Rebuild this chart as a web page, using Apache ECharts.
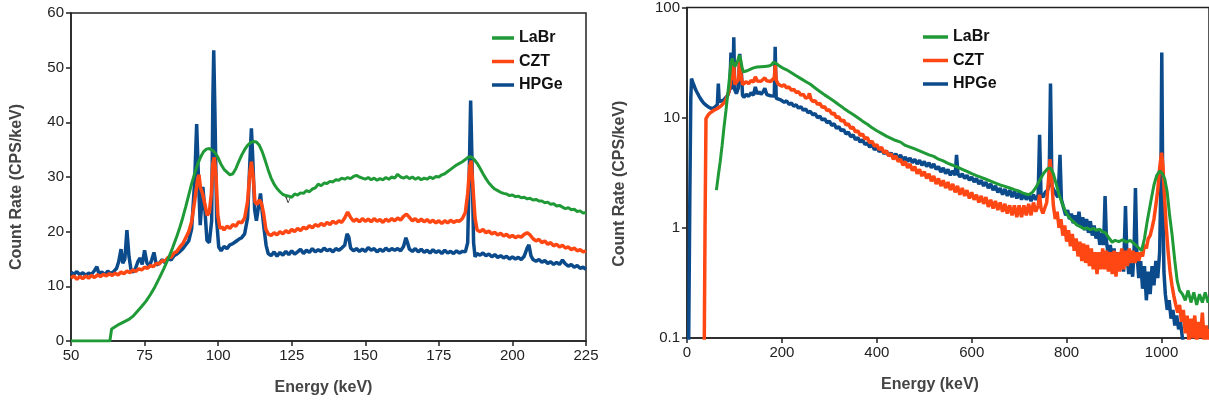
<!DOCTYPE html>
<html>
<head>
<meta charset="utf-8">
<script src="https://cdn.jsdelivr.net/npm/echarts@6/dist/echarts.min.js"></script>
<style>
  html, body { margin: 0; padding: 0; background: #fff; }
  #main { width: 1209px; height: 407px; }
</style>
</head>
<body>
<div id="main"></div>
<script>
var myChart = echarts.init(document.getElementById("main"));

// series names + colours
var detectors = ["LaBr", "CZT", "HPGe"];
var colors = ["#1f9a37", "#ff4714", "#0b4a8b"];

// left panel: linear, 50-225 keV  ([energy, count rate])
var labrLin = [
    [50, 0], [63.2, 0], [63.8, 2.2], [65, 2.6], [66.5, 3.1], [68, 3.5], [69.5, 3.9], [71, 4.5], [72.5, 5.4],
    [74, 6.3], [75.5, 7.3], [77, 8.5], [78.5, 9.9], [80, 11.5], [81.5, 13.2], [83, 15.0], [84.5, 17.0],
    [86, 19.2], [87, 20.8], [88, 22.6], [89, 24.6], [90, 26.7], [91, 28.8], [92, 30.6], [93, 32.3],
    [94, 33.6], [95, 34.6], [96, 35.1], [97, 35.2], [98, 34.9], [99, 34.4], [100, 33.5], [101, 32.3],
    [102, 31.4], [103, 30.9], [104, 30.4], [105, 30.6], [106, 31.5], [107, 32.8], [108, 34.0], [109, 35.0],
    [110, 35.8], [111, 36.3], [112, 36.5], [113, 36.4], [114, 35.8], [115, 34.6], [116, 33.0], [117, 31.3],
    [118, 29.8], [119, 28.7], [120, 27.9], [121, 27.3], [122, 26.8], [123, 26.6], [124, 26.5], [125, 26.3],
    [126, 26.9], [127, 26.7], [128, 27.1], [129, 27.0], [130, 27.5], [131, 27.3], [132, 27.8], [133, 28.0],
    [134, 28.7], [135, 28.4], [136, 28.9], [137, 28.8], [138, 29.2], [139, 29.1], [140, 29.5], [141, 29.4],
    [142, 29.8], [143, 29.6], [144, 29.9], [145, 29.7], [146, 30.1], [147, 30.3], [148, 30.0], [149, 29.8],
    [150, 29.6], [151, 29.9], [152, 29.5], [153, 29.8], [154, 29.4], [155, 29.7], [156, 29.5], [157, 29.9],
    [158, 29.6], [159, 30.0], [160, 29.8], [161, 30.5], [162, 30.0], [163, 29.8], [164, 30.1], [165, 29.7],
    [166, 30.0], [167, 29.6], [168, 29.9], [169, 29.5], [170, 29.8], [171, 29.6], [172, 30.0], [173, 29.7],
    [174, 30.1], [175, 30.0], [176, 30.4], [177, 30.6], [178, 31.0], [179, 31.4], [180, 31.8], [181, 32.2],
    [182, 32.5], [183, 32.8], [184, 33.2], [185, 33.6], [186, 33.7], [187, 33.2], [188, 32.5], [189, 31.6],
    [190, 30.6], [191, 29.7], [192, 28.9], [193, 28.3], [194, 27.8], [195, 27.5], [196, 27.2], [197, 27.0],
    [198, 26.9], [199, 26.6], [200, 26.7], [201, 26.4], [202, 26.5], [203, 26.2], [204, 26.3], [205, 26.0],
    [206, 26.1], [207, 25.8], [208, 25.9], [209, 25.6], [210, 25.6], [211, 25.3], [212, 25.4], [213, 25.0],
    [214, 25.1], [215, 24.7], [216, 24.8], [217, 24.5], [218, 24.2], [219, 24.4], [220, 24.0], [221, 24.1],
    [222, 23.7], [223, 23.8], [224, 23.4], [225, 23.5]
];
var cztLin = [
    [50, 11.5], [51, 11.9], [52, 11.3], [53, 11.8], [54, 11.4], [55, 11.9], [56, 11.5], [57, 12.0], [58, 11.6],
    [59, 12.1], [60, 11.8], [61, 12.2], [62, 11.9], [63, 12.3], [64, 12.0], [65, 12.4], [66, 12.1], [67, 12.6],
    [68, 12.3], [69, 12.8], [70, 12.5], [71, 13.0], [72, 12.7], [73, 13.2], [74, 13.0], [75, 13.5], [76, 13.3],
    [77, 13.8], [78, 13.6], [79, 14.2], [80, 14.1], [81, 14.7], [82, 14.6], [83, 15.3], [84, 15.3], [85, 16.1],
    [86, 16.4], [87, 17.2], [88, 17.8], [89, 18.9], [90, 20.0], [91, 21.8], [92, 25.5], [93, 29.5], [93.5, 30.4],
    [94, 28], [94.7, 27], [95.5, 25], [96.3, 23.0], [97, 23.5], [97.7, 27], [98.2, 32.5], [98.7, 33.6],
    [99.3, 30], [99.9, 23], [100.6, 20.6], [101.3, 20.9], [102, 20.3], [103, 21.0], [104, 20.6], [105, 21.3],
    [106, 21.0], [107, 21.8], [108, 21.6], [109, 22.5], [110, 25.5], [110.8, 31], [111.3, 32.8], [111.9, 30],
    [112.5, 25.5], [113.2, 25], [114, 25.8], [114.7, 25.2], [115.4, 23.5], [116.2, 20.5], [117, 19.6],
    [118, 19.3], [119, 19.8], [120, 19.4], [121, 20.0], [122, 19.6], [123, 20.2], [124, 19.8], [125, 20.4],
    [126, 20.0], [127, 20.6], [128, 20.2], [129, 20.8], [130, 20.5], [131, 21.1], [132, 20.7], [133, 21.3],
    [134, 21.0], [135, 21.5], [136, 21.1], [137, 21.7], [138, 21.3], [139, 21.9], [140, 21.5], [141, 22.0],
    [142, 21.7], [143, 22.5], [144, 23.6], [145, 22.6], [146, 21.9], [147, 22.3], [148, 21.8], [149, 22.4],
    [150, 21.9], [151, 22.3], [152, 21.8], [153, 22.4], [154, 21.9], [155, 22.2], [156, 21.7], [157, 22.3],
    [158, 21.9], [159, 22.4], [160, 22.0], [161, 22.5], [162, 22.1], [163, 22.8], [164, 23.2], [165, 22.6],
    [166, 22.0], [167, 22.4], [168, 21.8], [169, 22.3], [170, 21.8], [171, 22.2], [172, 21.7], [173, 22.1],
    [174, 21.6], [175, 22.0], [176, 21.5], [177, 22.0], [178, 21.6], [179, 22.1], [180, 21.7], [181, 22.0],
    [182, 21.9], [183, 22.4], [184, 23.5], [184.8, 27], [185.5, 32], [186, 33], [186.6, 28], [187.3, 22.5],
    [188, 20.3], [189, 20.0], [190, 20.4], [191, 19.8], [192, 20.1], [193, 19.6], [194, 19.9], [195, 19.4],
    [196, 19.7], [197, 19.2], [198, 19.5], [199, 19.0], [200, 19.3], [201, 18.9], [202, 19.2], [203, 19.0],
    [204, 19.5], [205, 19.8], [206, 19.4], [207, 18.7], [208, 18.3], [209, 18.6], [210, 18.0], [211, 18.3],
    [212, 17.7], [213, 18.0], [214, 17.4], [215, 17.7], [216, 17.2], [217, 17.5], [218, 17.0], [219, 17.2],
    [220, 16.7], [221, 17.0], [222, 16.5], [223, 16.7], [224, 16.3], [225, 16.5]
];
var hpgeLin = [
    [50, 12.6], [51, 12.2], [52, 12.7], [53, 12.1], [54, 12.5], [55, 12.0], [56, 12.4], [57, 12.2], [58, 12.9],
    [58.8, 13.6], [59.5, 12.3], [60.5, 12.6], [61.5, 12.1], [62.5, 12.8], [63.5, 12.3], [64.5, 12.7],
    [65.5, 13.3], [66.2, 14.5], [67, 16.8], [67.6, 14.2], [68.3, 15.0], [69, 20.3], [69.7, 15.5], [70.4, 13.0],
    [71.2, 12.6], [72, 13.4], [72.8, 14.6], [73.5, 15.2], [74.2, 14.0], [75, 16.6], [75.8, 14.3], [76.6, 13.6],
    [77.4, 14.8], [78.2, 16.2], [79, 13.9], [80, 14.2], [81, 14.9], [82, 14.3], [83, 15.2], [84, 14.8],
    [85, 15.6], [86, 15.9], [87, 16.4], [88, 16.9], [89, 17.6], [90, 18.3], [91, 20.5], [92, 29], [92.7, 39.7],
    [93.3, 30], [93.9, 21.2], [94.4, 25], [94.8, 28.2], [95.5, 24], [96.2, 18.4], [97, 18.0], [97.8, 22],
    [98.2, 44], [98.5, 53.2], [98.9, 42], [99.5, 22], [100.2, 17.2], [101, 16.5], [102, 17.3], [103, 16.9],
    [104, 17.6], [105, 17.8], [106, 18.2], [107, 18.6], [108, 18.9], [109, 19.6], [110, 22.5], [110.8, 33],
    [111.3, 38.9], [111.8, 33], [112.4, 24], [113, 22.0], [113.7, 24.5], [114.4, 27], [114.9, 24],
    [115.5, 21], [116.3, 17.5], [117, 16], [118, 15.6], [119, 16.3], [120, 15.5], [121, 16.2], [122, 15.7],
    [123, 16.4], [124, 15.8], [125, 16.5], [126, 15.9], [127, 16.3], [128, 16.8], [129, 16.0], [130, 16.6],
    [131, 16.2], [132, 16.9], [133, 16.3], [134, 16.7], [135, 16.4], [136, 17.0], [137, 16.5], [138, 16.8],
    [139, 16.3], [140, 16.9], [141, 16.6], [142, 17.0], [143, 17.5], [143.8, 19.6], [144.4, 19.0], [145, 17.0],
    [146, 16.5], [147, 16.9], [148, 16.4], [149, 16.8], [150, 16.4], [151, 17.1], [152, 16.6], [153, 16.9],
    [154, 16.3], [155, 16.8], [156, 16.4], [157, 17.0], [158, 16.5], [159, 16.9], [160, 16.6], [161, 16.9],
    [162, 16.5], [163, 17.3], [163.8, 18.9], [164.4, 17.9], [165, 16.8], [166, 16.4], [167, 16.9], [168, 16.3],
    [169, 16.8], [170, 16.2], [171, 16.6], [172, 16.1], [173, 16.7], [174, 16.2], [175, 16.5], [176, 16.0],
    [177, 16.6], [178, 16.1], [179, 16.4], [180, 16.0], [181, 16.5], [182, 16.1], [183, 16.4], [184, 16.3],
    [184.8, 18], [185.3, 30], [185.8, 44], [186.3, 32], [186.8, 18], [187.3, 15.4], [188, 16.0], [189, 15.7],
    [190, 16.1], [191, 15.6], [192, 15.9], [193, 15.4], [194, 15.8], [195, 15.3], [196, 15.6], [197, 15.2],
    [198, 15.5], [199, 15.0], [200, 15.4], [201, 15.0], [202, 15.3], [203, 14.9], [204, 15.5], [205, 17.0],
    [205.6, 17.6], [206.3, 15.6], [207, 14.9], [208, 14.6], [209, 14.9], [210, 14.4], [211, 14.7], [212, 14.2],
    [213, 14.5], [214, 14.0], [215, 14.4], [216, 14.0], [217, 14.8], [218, 14.1], [219, 13.7], [220, 14.0],
    [221, 13.5], [222, 13.8], [223, 13.3], [224, 13.5], [225, 13.1]
];

// right panel: log scale, 0-1100 keV
var labrLog = [
    [62, 2.2], [66, 3.0], [70, 4.0], [74, 5.6], [78, 8.2], [82, 11.5], [86, 16.5], [90, 24], [93, 32],
    [95.5, 34.5], [98, 31], [101, 29], [104, 29.5], [107, 33], [110, 37], [113, 34], [116, 28.5], [119, 26],
    [123, 25.5], [128, 26.8], [134, 27.6], [140, 28.3], [148, 28.8], [156, 29.0], [164, 29.2], [172, 29.4],
    [178, 30.2], [183, 32], [186, 33], [190, 30.5], [196, 29.2], [202, 28.2], [210, 27.2], [220, 25.6],
    [230, 24.0], [240, 22.6], [250, 21.3], [260, 20.1], [270, 18.6], [280, 17.3], [290, 16.1], [300, 15.1],
    [310, 14.1], [320, 13.1], [330, 12.2], [340, 11.4], [350, 10.7], [360, 10.0], [370, 9.3], [380, 8.7],
    [390, 8.1], [400, 7.6], [410, 7.2], [420, 6.8], [430, 6.5], [440, 6.2], [450, 6.0], [460, 5.6], [470, 5.4],
    [480, 5.2], [490, 5.0], [500, 4.8], [510, 4.6], [520, 4.45], [530, 4.2], [540, 4.05], [550, 3.85],
    [560, 3.7], [570, 3.55], [580, 3.4], [590, 3.25], [600, 3.1], [610, 2.98], [620, 2.87], [630, 2.76],
    [640, 2.65], [650, 2.55], [660, 2.45], [670, 2.38], [680, 2.3], [690, 2.22], [700, 2.15], [710, 2.05],
    [720, 2.0], [728, 2.1], [736, 2.35], [744, 2.75], [752, 3.15], [760, 3.45], [766, 3.5], [772, 3.1],
    [778, 2.5], [784, 2.0], [790, 1.7], [796, 1.45], [802, 1.3], [810, 1.18], [816, 1.12], [822, 1.06],
    [830, 1.02], [836, 0.98], [842, 1.0], [850, 0.96], [856, 0.99], [862, 0.95], [870, 0.97], [876, 0.92],
    [882, 0.9], [890, 0.8], [896, 0.74], [902, 0.77], [910, 0.75], [918, 0.78], [926, 0.74], [934, 0.77],
    [942, 0.72], [950, 0.67], [958, 0.62], [964, 0.8], [970, 1.16], [977, 1.7], [984, 2.45], [990, 3.0],
    [996, 3.27], [1002, 3.1], [1007, 2.75], [1012, 2.1], [1017, 1.3], [1022, 0.88], [1028, 0.5], [1033, 0.33],
    [1038, 0.27], [1044, 0.25], [1050, 0.22], [1056, 0.27], [1062, 0.21], [1068, 0.26], [1074, 0.2],
    [1080, 0.25], [1086, 0.21], [1092, 0.26], [1098, 0.21], [1104, 0.24], [1110, 0.2]
];
var cztLog = [
    [36, 0.05], [38, 1], [40, 9.8], [44, 10.5], [48, 11.0], [52, 11.2], [56, 11.6], [60, 11.9], [64, 12.1],
    [68, 12.4], [72, 12.8], [76, 13.2], [80, 14.0], [84, 15.2], [88, 17], [91, 20], [93.3, 30], [95, 24],
    [96.8, 22], [98.4, 32], [100.5, 20], [104, 20.5], [108, 22], [111.2, 33], [113.5, 25], [115.3, 24],
    [117, 20], [120, 19.5], [125, 21.2], [130, 20.3], [135, 21.8], [140, 21.0], [144, 23.5], [148, 21.5],
    [152, 22.4], [156, 21.4], [160, 22.3], [164, 23.0], [168, 21.6], [172, 22.3], [176, 21.3], [180, 22.1],
    [184, 23], [186, 30], [188, 22], [192, 20.2], [196, 20.8], [200, 19.3], [205, 19.9], [210, 18.6],
    [215, 19.0], [220, 17.7], [225, 18.1], [230, 16.9], [235, 17.2], [240, 16.0], [245, 16.3], [250, 15.1],
    [255, 15.3], [258, 16.6], [261, 14.8], [265, 14.0], [270, 14.3], [275, 13.2], [280, 13.5], [285, 12.4],
    [290, 12.6], [295, 11.6], [300, 11.8], [305, 10.8], [310, 11.0], [315, 10.0], [320, 10.2], [325, 9.3],
    [330, 9.5], [335, 8.6], [340, 8.8], [345, 8.0], [350, 8.2], [355, 7.4], [360, 7.6], [365, 6.9], [370, 7.1],
    [375, 6.4], [380, 6.6], [385, 5.9], [390, 6.1], [395, 5.5], [400, 5.7], [405, 5.1], [410, 5.4], [415, 4.8],
    [420, 5.0], [425, 4.5], [430, 4.7], [435, 4.2], [440, 4.5], [445, 4.0], [450, 4.2], [455, 3.7], [460, 4.0],
    [465, 3.5], [470, 3.8], [475, 3.3], [480, 3.6], [485, 3.1], [490, 3.4], [495, 2.95], [500, 3.25],
    [505, 2.8], [510, 3.1], [515, 2.65], [520, 2.95], [525, 2.5], [530, 2.8], [535, 2.4], [540, 2.7],
    [545, 2.3], [550, 2.6], [555, 2.2], [560, 2.5], [565, 2.1], [570, 2.4], [575, 2.0], [580, 2.3],
    [585, 1.95], [590, 2.2], [595, 1.85], [600, 2.1], [605, 1.8], [610, 2.0], [615, 1.7], [620, 1.95],
    [625, 1.65], [630, 1.9], [635, 1.55], [640, 1.8], [645, 1.5], [650, 1.75], [655, 1.45], [660, 1.7],
    [665, 1.4], [670, 1.65], [675, 1.35], [680, 1.6], [685, 1.3], [690, 1.6], [695, 1.25], [700, 1.6],
    [705, 1.25], [710, 1.6], [715, 1.3], [720, 1.65], [725, 1.3], [730, 1.7], [735, 1.4], [740, 1.6],
    [743, 2.0], [746, 1.5], [750, 1.35], [754, 1.3], [758, 1.7], [762, 2.8], [765, 4.2], [768, 3.0],
    [772, 1.6], [776, 1.2], [780, 1.4], [784, 1.0], [788, 1.2], [792, 0.85], [796, 1.05], [800, 0.75],
    [804, 0.95], [808, 0.68], [812, 0.88], [816, 0.62], [820, 0.8], [824, 0.55], [828, 0.75], [832, 0.5],
    [836, 0.72], [840, 0.48], [844, 0.7], [848, 0.45], [852, 0.65], [856, 0.42], [860, 0.6], [864, 0.38],
    [868, 0.6], [872, 0.42], [876, 0.65], [880, 0.42], [884, 0.62], [888, 0.4], [892, 0.6], [896, 0.38],
    [900, 0.62], [904, 0.36], [908, 0.6], [912, 0.4], [916, 0.65], [920, 0.42], [924, 0.62], [928, 0.45],
    [932, 0.65], [936, 0.48], [940, 0.62], [944, 0.48], [948, 0.6], [952, 0.5], [956, 0.6], [960, 0.55],
    [964, 0.7], [968, 0.65], [972, 0.8], [976, 0.85], [980, 1.0], [984, 1.2], [988, 1.6], [992, 2.2],
    [996, 3.5], [1000, 4.8], [1003, 3.6], [1006, 2.0], [1010, 1.0], [1014, 0.6], [1018, 0.4], [1022, 0.3],
    [1026, 0.24], [1030, 0.2], [1034, 0.17], [1038, 0.2], [1042, 0.14], [1046, 0.18], [1050, 0.11],
    [1054, 0.16], [1058, 0.09], [1062, 0.15], [1066, 0.1], [1070, 0.16], [1074, 0.09], [1078, 0.14],
    [1082, 0.1], [1086, 0.17], [1090, 0.09], [1094, 0.13], [1098, 0.08], [1102, 0.12], [1106, 0.09], [1110, 0.12]
];
var hpgeLog = [
    [3, 0.05], [6, 2], [8, 15], [9.5, 22.6], [12, 21], [15, 19.5], [18, 18], [21, 17], [25, 15.8], [30, 14.5],
    [35, 13.6], [40, 13.0], [45, 12.5], [50, 12.2], [55, 12.2], [60, 12.6], [64, 13.2], [66, 20.4], [68, 14.0],
    [72, 14.3], [77, 14.4], [82, 15.3], [86, 16.0], [90, 18], [92.7, 39], [94, 21], [95, 30], [96.5, 18],
    [98.6, 53.7], [100.5, 18], [104, 16.5], [108, 18.5], [111.3, 38], [113, 21], [114.6, 26], [117, 16],
    [120, 15.3], [125, 16.3], [130, 15.6], [135, 16.8], [140, 16.0], [144, 19], [148, 16.4], [152, 17.2],
    [156, 16.3], [160, 17.1], [164, 18.5], [168, 16.2], [172, 16.8], [176, 15.8], [180, 16.3], [184, 15.7],
    [185.8, 44], [188, 15.0], [192, 15.6], [196, 14.6], [200, 15.0], [205, 13.8], [210, 14.2], [215, 13.2],
    [220, 13.6], [225, 12.7], [230, 13.1], [235, 12.2], [240, 12.6], [245, 11.7], [250, 12.0], [255, 11.1],
    [260, 11.4], [265, 10.6], [270, 10.9], [275, 10.0], [280, 10.3], [285, 9.5], [290, 9.8], [295, 9.0],
    [300, 9.3], [305, 8.5], [310, 8.8], [315, 8.0], [320, 8.3], [325, 7.6], [330, 7.8], [335, 7.1], [340, 7.4],
    [345, 6.7], [350, 7.0], [355, 6.3], [360, 6.6], [365, 6.0], [370, 6.3], [375, 5.7], [380, 5.9], [385, 5.4],
    [390, 5.7], [395, 5.1], [400, 5.4], [405, 4.9], [410, 5.2], [415, 4.7], [420, 5.0], [425, 4.5], [430, 4.8],
    [435, 4.4], [440, 4.7], [445, 4.2], [450, 4.6], [455, 4.1], [460, 4.4], [465, 4.0], [470, 4.3], [475, 3.9],
    [480, 4.2], [485, 3.8], [490, 4.1], [495, 3.7], [500, 4.0], [505, 3.6], [510, 3.9], [515, 3.5], [520, 3.8],
    [525, 3.4], [530, 3.6], [535, 3.2], [540, 3.5], [545, 3.1], [550, 3.4], [555, 3.0], [560, 3.3], [565, 3.0],
    [568, 4.6], [571, 3.1], [575, 2.9], [580, 3.1], [585, 2.8], [590, 3.0], [595, 2.7], [600, 2.9], [605, 2.6],
    [610, 2.8], [615, 2.5], [620, 2.7], [625, 2.4], [630, 2.6], [635, 2.3], [640, 2.5], [645, 2.2], [650, 2.4],
    [655, 2.1], [660, 2.3], [665, 2.0], [670, 2.25], [675, 1.95], [680, 2.2], [685, 1.9], [690, 2.15],
    [695, 1.85], [700, 2.1], [705, 1.8], [710, 2.05], [715, 1.8], [720, 2.0], [725, 1.75], [730, 2.0],
    [735, 1.8], [740, 2.0], [743, 7.0], [746, 2.0], [750, 1.9], [755, 2.1], [760, 2.2], [763, 2.5], [766, 20.4],
    [769, 2.4], [773, 2.2], [778, 2.0], [782, 1.9], [786, 4.6], [789, 1.8], [794, 1.5], [798, 1.3],
    [802, 1.45], [806, 1.2], [810, 1.35], [814, 1.1], [818, 1.3], [822, 1.05], [826, 1.4], [830, 1.0],
    [834, 1.25], [838, 0.95], [842, 1.2], [846, 0.9], [850, 1.15], [854, 0.85], [858, 1.05], [862, 0.8],
    [866, 0.95], [870, 0.7], [874, 0.9], [878, 0.7], [881, 1.94], [884, 0.75], [888, 0.55], [892, 0.7],
    [896, 0.5], [900, 0.65], [904, 0.42], [908, 0.6], [912, 0.45], [916, 0.62], [920, 0.4], [924, 1.58],
    [927, 0.55], [931, 0.38], [935, 0.55], [939, 0.36], [942, 0.6], [945, 2.3], [948, 0.6], [952, 0.35],
    [956, 0.5], [960, 0.28], [964, 0.45], [968, 0.22], [972, 0.4], [976, 0.25], [980, 0.45], [984, 0.3],
    [988, 0.5], [992, 0.35], [996, 0.6], [998.5, 2.5], [1000.5, 39], [1002.5, 2.5], [1005, 0.4], [1008, 0.25],
    [1012, 0.18], [1016, 0.22], [1020, 0.15], [1024, 0.18], [1028, 0.13], [1032, 0.16], [1036, 0.12],
    [1040, 0.14], [1044, 0.1], [1048, 0.08], [1060, 0.05], [1110, 0.05]
];

var fontName = "'Liberation Sans', Arial, sans-serif";
var axisInk = "#222";

function valueAxis(extra) {
    var base = {
        type: "value",
        axisLine: { show: true, onZero: false, lineStyle: { color: axisInk, width: 1.5 } },
        axisTick: { show: true, length: 5, lineStyle: { color: axisInk, width: 1.5 } },
        axisLabel: { color: axisInk, fontSize: 15, fontFamily: fontName, margin: 7 },
        splitLine: { show: false },
        nameLocation: "middle",
        nameTextStyle: { color: "#444", fontSize: 16, fontWeight: "bold", fontFamily: fontName }
    };
    for (var k in extra) {
        if (k === "nameTextStyle") {
            for (var j in extra[k]) base.nameTextStyle[j] = extra[k][j];
        } else {
            base[k] = extra[k];
        }
    }
    return base;
}

// plain numbers, no thousands separator
var plainLabel = function (v) { return String(+(+v).toPrecision(3)); };

var panels = [
    [labrLin, cztLin, hpgeLin],
    [labrLog, cztLog, hpgeLog]
];

var series = [];
panels.forEach(function (sets, p) {
    // draw HPGe first, LaBr on top
    [2, 1, 0].forEach(function (i) {
        series.push({
            name: detectors[i],
            type: "line",
            xAxisIndex: p,
            yAxisIndex: p,
            data: sets[i],
            showSymbol: false,
            symbol: "none",
            sampling: false,
            clip: true,
            lineStyle: { color: colors[i], width: i === 0 ? 3 : 3.5 },
            itemStyle: { color: colors[i] },
            z: 3 - i
        });
    });
});

var legendCommon = {
    orient: "vertical",
    data: detectors,
    icon: "rect",
    itemHeight: 3.5,
    itemGap: 7.5,
    selectedMode: false,
    textStyle: { fontSize: 16, fontWeight: "bold", color: "#111", fontFamily: fontName }
};

var option = {
    animation: false,
    backgroundColor: "#fff",
    legend: [
        Object.assign({ left: 487, top: 25, itemWidth: 22 }, legendCommon),
        Object.assign({ left: 918, top: 24, itemWidth: 25 }, legendCommon)
    ],
    grid: [
        { left: 71, top: 13, width: 515, height: 328, show: true, borderColor: axisInk, borderWidth: 1.5 },
        { left: 687, top: 5, width: 525, height: 333, show: true, borderColor: axisInk, borderWidth: 1.5 }
    ],
    xAxis: [
        valueAxis({ gridIndex: 0, min: 50, max: 225, interval: 25, name: "Energy (keV)", nameGap: 39,
            nameTextStyle: { padding: [0, 10, 0, 0] } }),
        valueAxis({ gridIndex: 1, min: 0, max: 1100, interval: 200, name: "Energy (keV)", nameGap: 39,
            axisLabel: { color: axisInk, fontSize: 15, fontFamily: fontName, margin: 7, showMaxLabel: false,
                formatter: plainLabel },
            nameTextStyle: { padding: [0, 36, 0, 0] } })
    ],
    yAxis: [
        valueAxis({ gridIndex: 0, min: 0, max: 60, interval: 10, name: "Count Rate (CPS/keV)", nameGap: 46,
            nameTextStyle: { padding: [0, 20, 0, 0] } }),
        valueAxis({ gridIndex: 1, type: "log", logBase: 10, min: 0.1, max: 100, name: "Count Rate (CPS/keV)",
            nameGap: 59, minorTick: { show: false },
            axisLabel: { color: axisInk, fontSize: 15, fontFamily: fontName, margin: 7, formatter: plainLabel },
            nameTextStyle: { padding: [0, 22, 0, 0] } })
    ],
    graphic: [
        {
            type: "text",
            left: 285,
            top: 195,
            style: { text: "v", font: "11px 'DejaVu Serif', serif", fill: "#333" }
        }
    ],
    series: series
};

myChart.setOption(option);
</script>
</body>
</html>
